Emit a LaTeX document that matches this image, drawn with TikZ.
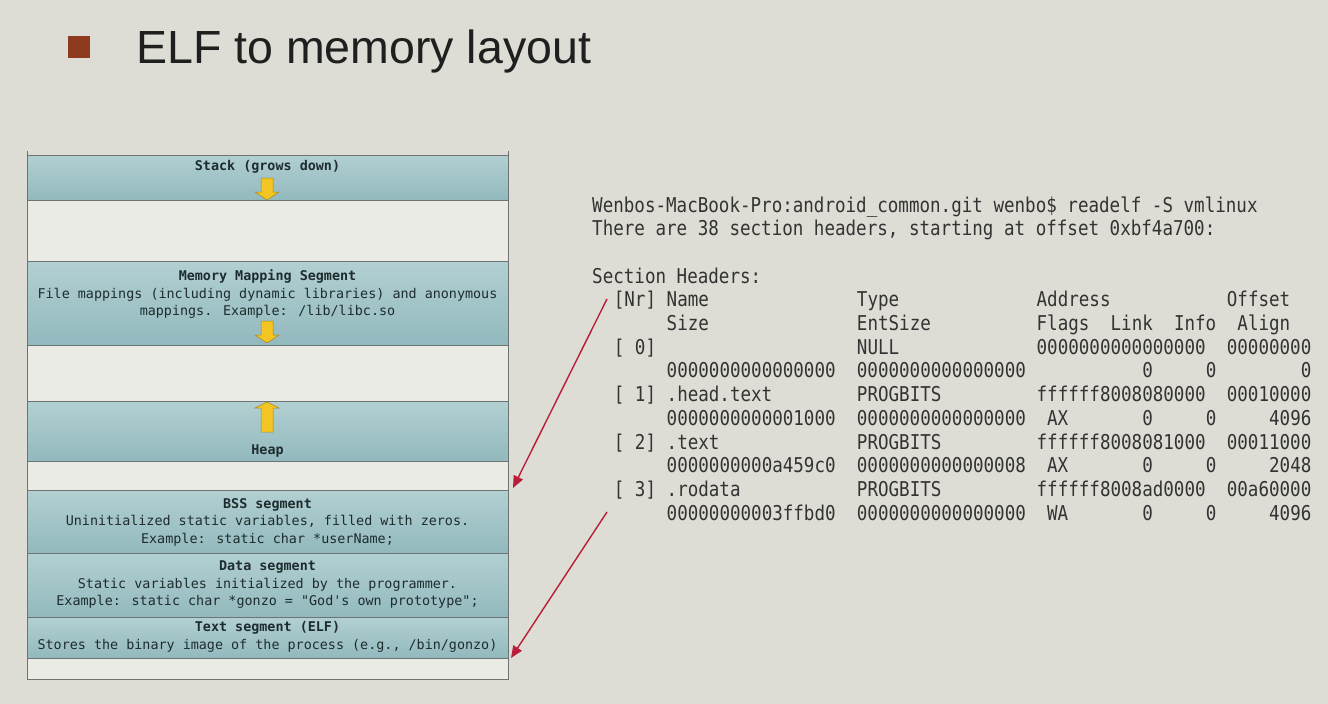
\documentclass[tikz,border=0pt]{standalone}
\usepackage{fontspec}
\usetikzlibrary{arrows.meta}
\setmainfont{Liberation Sans}
\newfontfamily\termfont[FakeStretch=0.86]{DejaVu Sans Mono}
\newfontfamily\boxfont{DejaVu Sans Mono}
\definecolor{bg}{HTML}{DDDCD5}
\definecolor{blank}{HTML}{EBEBE6}
\definecolor{tealtop}{HTML}{B2D0D2}
\definecolor{tealbot}{HTML}{92B9BE}
\definecolor{edge}{HTML}{6E7474}
\definecolor{boxtext}{HTML}{1E2C2E}
\definecolor{yfill}{HTML}{F2C522}
\definecolor{yedge}{HTML}{A8861C}
\definecolor{redarr}{HTML}{B81E3A}
\definecolor{bulletc}{HTML}{8E3A1F}
\definecolor{termtext}{HTML}{333333}
\newlength\cw
\setlength\cw{10.57pt}
\newcommand\tcol[2]{\makebox[0pt][l]{\hspace*{#1\cw}#2}}
\tikzset{
  seg/.style={draw=edge, line width=0.8pt, top color=tealtop, bottom color=tealbot,
    minimum width=481pt, inner sep=0pt, outer sep=0pt},
  gap/.style={draw=edge, line width=0.8pt, fill=blank,
    minimum width=481pt, inner sep=0pt, outer sep=0pt},
  segtext/.style={font=\boxfont\fontsize{13.4}{17.5}\selectfont, text=boxtext, align=center, inner sep=0pt},
  segtitle/.style={segtext, font=\boxfont\bfseries\fontsize{13.4}{17.5}\selectfont},
  term/.style={font=\termfont\fontsize{20.4}{23.7}\selectfont, text=termtext, anchor=base west, inner sep=0pt},
  yarrow/.style={fill=yfill, draw=yedge, line width=0.5pt},
  downarr/.pic={\path[yarrow] (-6,-22) -- (6,-22) -- (6,-8) -- (12,-8) -- (0,0) -- (-12,-8) -- (-6,-8) -- cycle;},
  uparr/.pic={\path[yarrow] (0,0) -- (12,6) -- (6,6) -- (6,30) -- (-6,30) -- (-6,6) -- (-12,6) -- cycle;},
  redline/.style={draw=redarr, line width=1.4pt, -{Triangle[length=12pt,width=10pt]}},
}
\begin{document}
\begin{tikzpicture}[x=1pt,y=-1pt]
\fill[bg] (0,0) rectangle (1328,704);
\useasboundingbox (0,0) rectangle (1328,704);
% title
\node[fill=bulletc, minimum size=22pt, inner sep=0pt] (bullet) at (79,47) {};
\node[anchor=base west, font=\fontsize{46.5}{50}\selectfont, text=black!88, inner sep=0pt] (title) at (136,63) {ELF to memory layout};
% memory layout column
\draw[edge, line width=0.8pt] (27,151) -- (27,679) -- (508,679) -- (508,151);
\node[seg, minimum height=45pt] (stack) at (267.5,177.5) {};
\node[gap, minimum height=61pt] (gap1) at (267.5,230.5) {};
\node[seg, minimum height=84pt] (mms) at (267.5,303) {};
\node[gap, minimum height=56pt] (gap2) at (267.5,373) {};
\node[seg, minimum height=60pt] (heap) at (267.5,431) {};
\node[gap, minimum height=29pt] (gap3) at (267.5,475.5) {};
\node[seg, minimum height=63pt] (bss) at (267.5,521.5) {};
\node[seg, minimum height=64pt] (data) at (267.5,585) {};
\node[seg, minimum height=41pt] (textseg) at (267.5,637.5) {};
\node[gap, minimum height=21pt] (gap4) at (267.5,668.5) {};
% labels
\node[segtitle] (stackl) at (267.5,167) {Stack (grows down)};
\pic at (267,200) {downarr};
\node[segtext] (mmsl) at (267.5,294) {\textbf{Memory Mapping Segment}\\File mappings (including dynamic libraries) and anonymous\\mappings. Example: /lib/libc.so};
\pic at (267,343) {downarr};
\pic at (267,402) {uparr};
\node[segtitle] (heapl) at (267.5,451) {Heap};
\node[segtext] (bssl) at (267.5,522) {\textbf{BSS segment}\\Uninitialized static variables, filled with zeros.\\Example: static char *userName;};
\node[segtext] (datal) at (267.5,585) {\textbf{Data segment}\\Static variables initialized by the programmer.\\Example: static char *gonzo = "God's own prototype";};
\node[segtext] (textl) at (267.5,637) {\textbf{Text segment (ELF)}\\Stores the binary image of the process (e.g., /bin/gonzo)};
% terminal output
\node[term] (t1) at (592,212) {Wenbos-MacBook-Pro:android\_common.git wenbo\$ readelf -S vmlinux};
\node[term] (t2) at (592,235.7) {There are 38 section headers, starting at offset 0xbf4a700:};
\node[term] (t4) at (592,283.1) {Section Headers:};
\node[term] (t5) at (592,306.8) {\tcol{2}{[Nr]}\tcol{7}{Name}\tcol{25}{Type}\tcol{42}{Address}\tcol{60}{Offset}};
\node[term] (t6) at (592,330.5) {\tcol{7}{Size}\tcol{25}{EntSize}\tcol{42}{Flags}\tcol{49}{Link}\tcol{55}{Info}\tcol{61}{Align}};
\node[term] (t7) at (592,354.2) {\tcol{2}{[ 0]}\tcol{25}{NULL}\tcol{42}{0000000000000000}\tcol{60}{00000000}};
\node[term] (t8) at (592,377.9) {\tcol{7}{0000000000000000}\tcol{25}{0000000000000000}\tcol{52}{0}\tcol{58}{0}\tcol{67}{0}};
\node[term] (t9) at (592,401.6) {\tcol{2}{[ 1]}\tcol{7}{.head.text}\tcol{25}{PROGBITS}\tcol{42}{ffffff8008080000}\tcol{60}{00010000}};
\node[term] (t10) at (592,425.3) {\tcol{7}{0000000000001000}\tcol{25}{0000000000000000}\tcol{43}{AX}\tcol{52}{0}\tcol{58}{0}\tcol{64}{4096}};
\node[term] (t11) at (592,449) {\tcol{2}{[ 2]}\tcol{7}{.text}\tcol{25}{PROGBITS}\tcol{42}{ffffff8008081000}\tcol{60}{00011000}};
\node[term] (t12) at (592,472.7) {\tcol{7}{0000000000a459c0}\tcol{25}{0000000000000008}\tcol{43}{AX}\tcol{52}{0}\tcol{58}{0}\tcol{64}{2048}};
\node[term] (t13) at (592,496.4) {\tcol{2}{[ 3]}\tcol{7}{.rodata}\tcol{25}{PROGBITS}\tcol{42}{ffffff8008ad0000}\tcol{60}{00a60000}};
\node[term] (t14) at (592,520.1) {\tcol{7}{00000000003ffbd0}\tcol{25}{0000000000000000}\tcol{43}{WA}\tcol{52}{0}\tcol{58}{0}\tcol{64}{4096}};
% red arrows
\coordinate (a1s) at (607,299);
\coordinate (a1e) at (513,488);
\coordinate (a2s) at (607,512);
\coordinate (a2e) at (511,658);
\draw[redline] (a1s) -- (a1e);
\draw[redline] (a2s) -- (a2e);
\end{tikzpicture}
\end{document}
